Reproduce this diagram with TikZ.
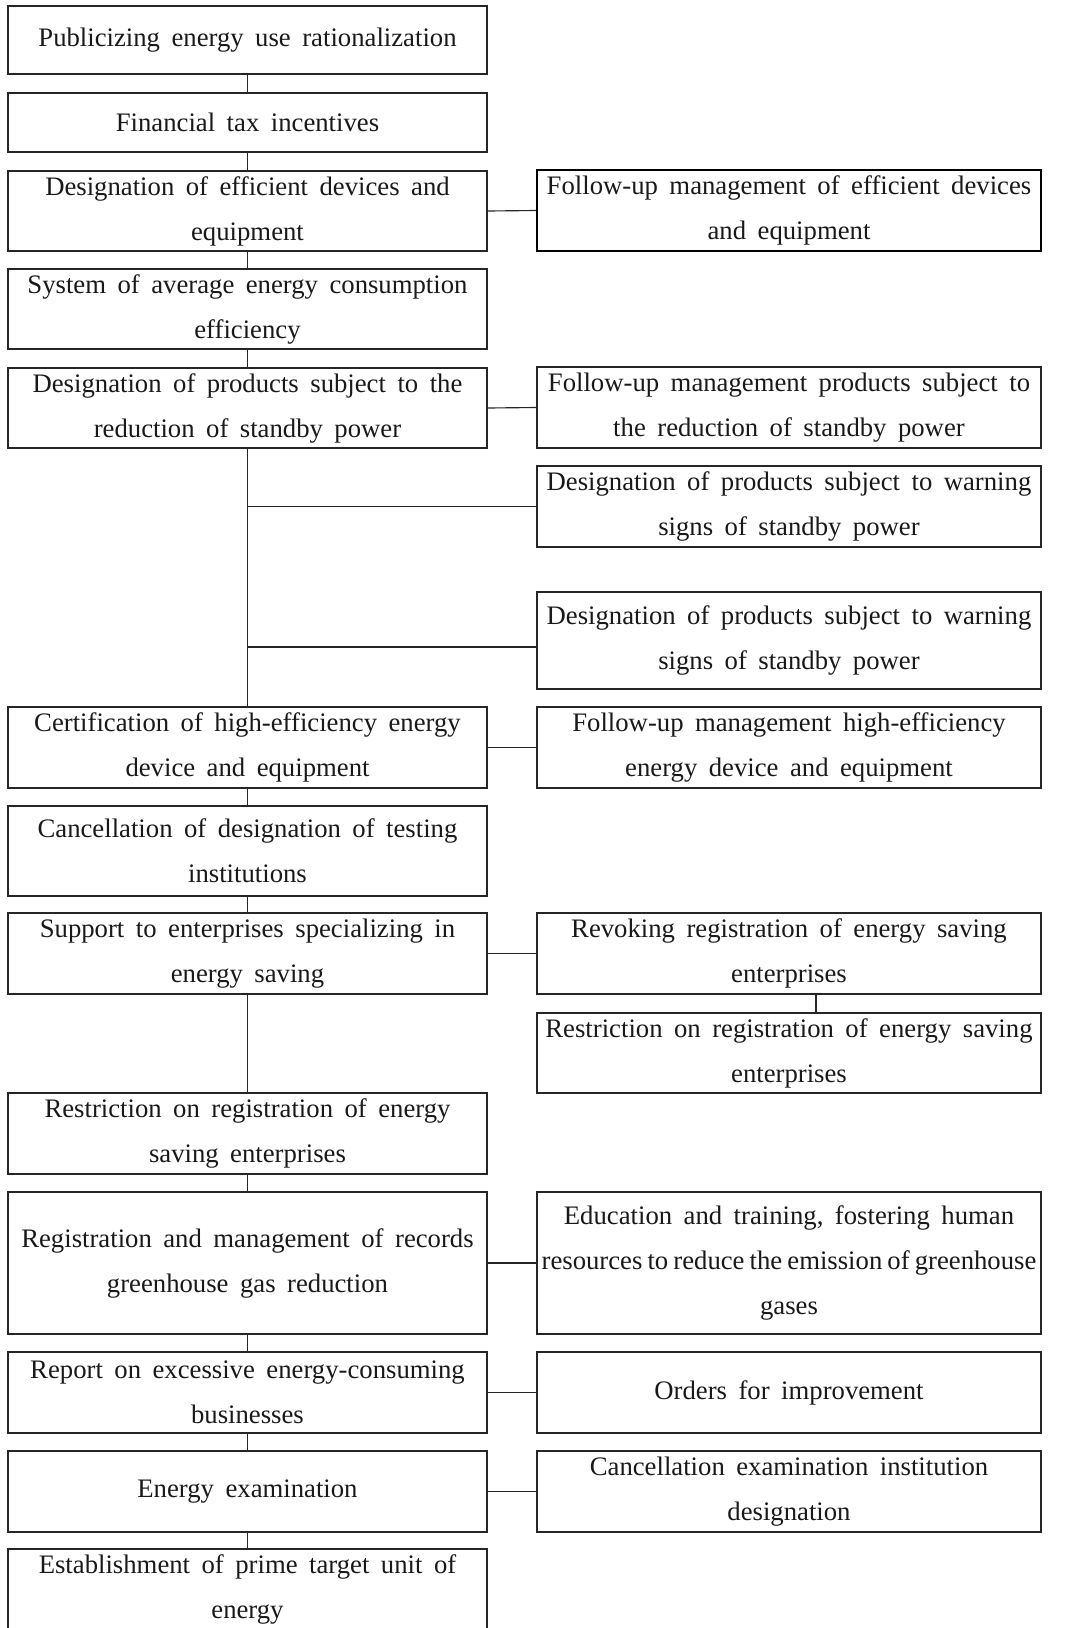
\documentclass[tikz,border=0pt]{standalone}
\usepackage{fontspec}
\setmainfont{Liberation Serif}
\usepackage{tikz}
\usetikzlibrary{positioning, calc}

\newcommand{\boxfont}{\fontsize{15.2}{25.6}\selectfont}

\begin{document}
\begin{tikzpicture}[
    box/.style={draw=black!85, line width=0.85pt, inner sep=0pt, align=center,
                minimum height=1.62cm, font=\boxfont, text=black!90,
                execute at begin node={\spaceskip=0.43em\relax}},
    lbox/.style={box, minimum width=9.58cm, text width=9.4cm},
    rbox/.style={box, minimum width=10.08cm, text width=10cm},
    link/.style={draw=black!85, line width=0.65pt}
]

    \useasboundingbox (0,0) rectangle (21.5,-32.56);

    % --- Main column ---
    \node[lbox, minimum height=1.36cm] (pub) at (4.95,-0.80) {Publicizing energy use rationalization};
    \node[lbox, minimum height=1.18cm] (tax) at (4.95,-2.45) {Financial tax incentives};
    \node[lbox, minimum height=1.60cm] (effdev) at (4.95,-4.22) {Designation of efficient devices and\\equipment};
    \node[lbox, minimum height=1.60cm] (avg) at (4.95,-6.18) {System of average energy consumption\\efficiency};
    \node[lbox, minimum height=1.60cm] (standby) at (4.95,-8.16) {Designation of products subject to the\\reduction of standby power};
    \node[lbox] (cert) at (4.95,-14.95) {Certification of high-efficiency energy\\device and equipment};
    \node[lbox, minimum height=1.80cm] (cancel) at (4.95,-17.02) {Cancellation of designation of testing\\institutions};
    \node[lbox] (support) at (4.95,-19.07) {Support to enterprises specializing in\\energy saving};
    \node[lbox] (restrict) at (4.95,-22.67) {Restriction on registration of energy\\saving enterprises};
    \node[lbox, minimum height=2.84cm] (ghg) at (4.95,-25.26) {Registration and management of records\\greenhouse gas reduction};
    \node[lbox] (report) at (4.95,-27.85) {Report on excessive energy-consuming\\businesses};
    \node[lbox] (exam) at (4.95,-29.83) {Energy examination};
    \node[lbox] (prime) at (4.95,-31.79) {Establishment of prime target unit of\\energy};

    % --- Side column ---
    \node[rbox, line width=1.2pt, draw=black] (effdevfu) at (15.78,-4.21) {Follow-up management of efficient devices\\and equipment};
    \node[rbox] (standbyfu) at (15.78,-8.15) {Follow-up management products subject to\\the reduction of standby power};
    \node[rbox] (warnA) at (15.78,-10.13) {Designation of products subject to warning\\signs of standby power};
    \node[rbox, minimum height=1.94cm] (warnB) at (15.78,-12.81) {Designation of products subject to warning\\signs of standby power};
    \node[rbox] (certfu) at (15.78,-14.95) {Follow-up management high-efficiency\\energy device and equipment};
    \node[rbox] (revoke) at (15.78,-19.07) {Revoking registration of energy saving\\enterprises};
    \node[rbox, minimum height=1.60cm] (restrictR) at (15.78,-21.06) {Restriction on registration of energy saving\\enterprises};
    \node[rbox, minimum height=2.84cm] (edu) at (15.78,-25.26) {Education and training, fostering human\\{\spaceskip=0.19em resources to reduce the emission of greenhouse}\\gases};
    \node[rbox] (orders) at (15.78,-27.85) {Orders for improvement};
    \node[rbox] (examcancel) at (15.78,-29.83) {Cancellation examination institution\\designation};

    % --- Main spine ---
    \draw[link] (pub) -- (tax);
    \draw[link] (tax) -- (effdev);
    \draw[link] (effdev) -- (avg);
    \draw[link] (avg) -- (standby);
    \draw[link] (standby) -- (cert);
    \draw[link] (cert) -- (cancel);
    \draw[link] (cancel) -- (support);
    \draw[link] (support) -- (restrict);
    \draw[link] (restrict) -- (ghg);
    \draw[link] (ghg) -- (report);
    \draw[link] (report) -- (exam);
    \draw[link] (exam) -- (prime);

    % --- Side links ---
    \draw[link] (effdev.east) -- (effdevfu.west);
    \draw[link] (standby.east) -- (standbyfu.west);
    \draw[link] (warnA.west) -- (warnA.west -| standby.south);
    \draw[link] ([yshift=-0.13cm]warnB.west) -- ([yshift=-0.13cm]warnB.west -| standby.south);
    \draw[link] (cert.east) -- (certfu.west);
    \draw[link] (support.east) -- (revoke.west);
    \draw[link] ([xshift=0.54cm]revoke.south) -- ([xshift=0.54cm]restrictR.north);
    \draw[link] (ghg.east) -- (edu.west);
    \draw[link] (report.east) -- (orders.west);
    \draw[link] (exam.east) -- (examcancel.west);

\end{tikzpicture}
\end{document}
